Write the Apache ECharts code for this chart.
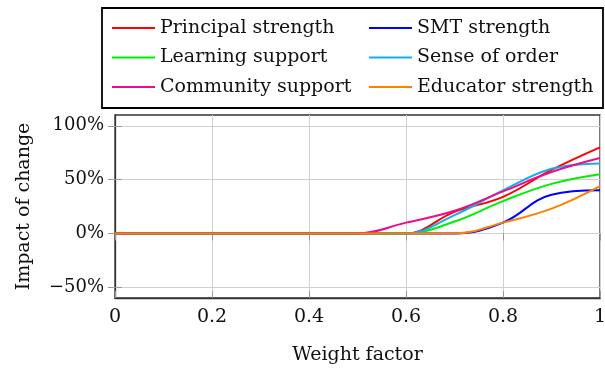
<!DOCTYPE html>
<html>
<head>
<meta charset="utf-8">
<script src="https://cdn.jsdelivr.net/npm/echarts@6/dist/echarts.min.js"></script>
<style>html,body{margin:0;padding:0;background:#fff}#c{width:605px;height:368px}</style>
</head>
<body>
<div id="c"></div>
<script>
const weights = [0, 0.1, 0.2, 0.3, 0.4, 0.5, 0.6, 0.7, 0.8, 0.9, 1.0];
const principalStrength = [0, 0, 0, 0, 0, 0, 0, 20, 34, 59, 80];
const smtStrength       = [0, 0, 0, 0, 0, 0, 0, 0, 10, 36, 40];
const learningSupport   = [0, 0, 0, 0, 0, 0, 0, 11, 30, 46, 55];
const senseOfOrder      = [0, 0, 0, 0, 0, 0, 0, 17, 40, 60, 65];
const communitySupport  = [0, 0, 0, 0, 0, 0, 10, 21, 39, 57, 70];
const educatorStrength  = [0, 0, 0, 0, 0, 0, 0, 0, 10, 23, 44];
const yTicks = [-50, 0, 50, 100];

const seriesDefs = [
  {name: 'Principal strength', data: principalStrength, color: '#ff0000'},
  {name: 'SMT strength', data: smtStrength, color: '#0000ff'},
  {name: 'Learning support', data: learningSupport, color: '#00ee00'},
  {name: 'Sense of order', data: senseOfOrder, color: '#10b0f0'},
  {name: 'Community support', data: communitySupport, color: '#ec0c8c'},
  {name: 'Educator strength', data: educatorStrength, color: '#ff8000'}
];

const FONT = 'DejaVu Serif';
const chart = echarts.init(document.getElementById('c'));
const legendCommon = {
  orient: 'vertical', top: 18, itemWidth: 43, itemHeight: 2, itemGap: 9.5, icon: 'rect',
  textStyle: {fontFamily: FONT, fontSize: 19, color: '#111', lineHeight: 20, padding: [0, 0, 0, 0]},
  padding: 0, selectedMode: false
};
chart.setOption({
  animation: false,
  grid: {left: 115, right: 5, top: 115, bottom: 70, show: true, borderColor: '#333', borderWidth: 1.3, outerBoundsMode: 'none', containLabel: false},
  graphic: [{type: 'rect', shape: {x: 102, y: 8, width: 501, height: 100}, style: {fill: 'none', stroke: '#000', lineWidth: 1.8}, z: 100}],
  legend: [
    Object.assign({left: 112, data: ['Principal strength', 'Learning support', 'Community support']}, legendCommon),
    Object.assign({left: 369, data: ['SMT strength', 'Sense of order', 'Educator strength']}, legendCommon)
  ],
  xAxis: [{
    type: 'value', min: 0, max: 1, interval: 0.2,
    name: 'Weight factor', nameLocation: 'middle', nameGap: 48,
    nameTextStyle: {fontFamily: FONT, fontSize: 19, color: '#111'},
    axisLine: {show: true, onZero: false, lineStyle: {color: '#333', width: 1.3}},
    axisTick: {show: true, inside: true, length: 7, lineStyle: {color: '#999'}},
    axisLabel: {fontFamily: FONT, fontSize: 19, color: '#111', margin: 10,
      formatter: v => (v === 0 || v === 1) ? String(v) : v.toFixed(1)},
    splitLine: {show: true, lineStyle: {color: '#d0d0d0', width: 1}}
  }, {
    type: 'value', min: 0, max: 1, interval: 0.2, position: 'top',
    axisLine: {show: false}, axisLabel: {show: false}, splitLine: {show: false},
    axisTick: {show: true, inside: true, length: 7, lineStyle: {color: '#999'}}
  }],
  yAxis: [{
    type: 'value', min: -60, max: 110,
    name: 'Impact of change', nameLocation: 'middle', nameGap: 81,
    nameTextStyle: {fontFamily: FONT, fontSize: 19, color: '#111'},
    axisLine: {show: true, onZero: false, lineStyle: {color: '#333', width: 1.3}},
    axisTick: {show: true, inside: true, length: 7, lineStyle: {color: '#999'}, customValues: yTicks},
    axisLabel: {fontFamily: FONT, fontSize: 18, color: '#111', margin: 11, customValues: yTicks,
      formatter: v => (v < 0 ? '\u2212' + Math.abs(v) : v) + '%'},
    splitLine: {show: true, lineStyle: {color: '#d0d0d0', width: 1}}
  }, {
    type: 'value', min: -60, max: 110, position: 'right',
    axisLine: {show: false}, axisLabel: {show: false}, splitLine: {show: false},
    axisTick: {show: true, inside: true, length: 7, lineStyle: {color: '#999'}, customValues: yTicks}
  }],
  series: seriesDefs.map(s => ({
    name: s.name, type: 'line', xAxisIndex: 0, yAxisIndex: 0,
    data: weights.map((w, i) => [w, s.data[i]]),
    smooth: 0.4, showSymbol: false, symbol: 'none',
    lineStyle: {color: s.color, width: 2}, itemStyle: {color: s.color}
  }))
});
</script>
</body>
</html>
